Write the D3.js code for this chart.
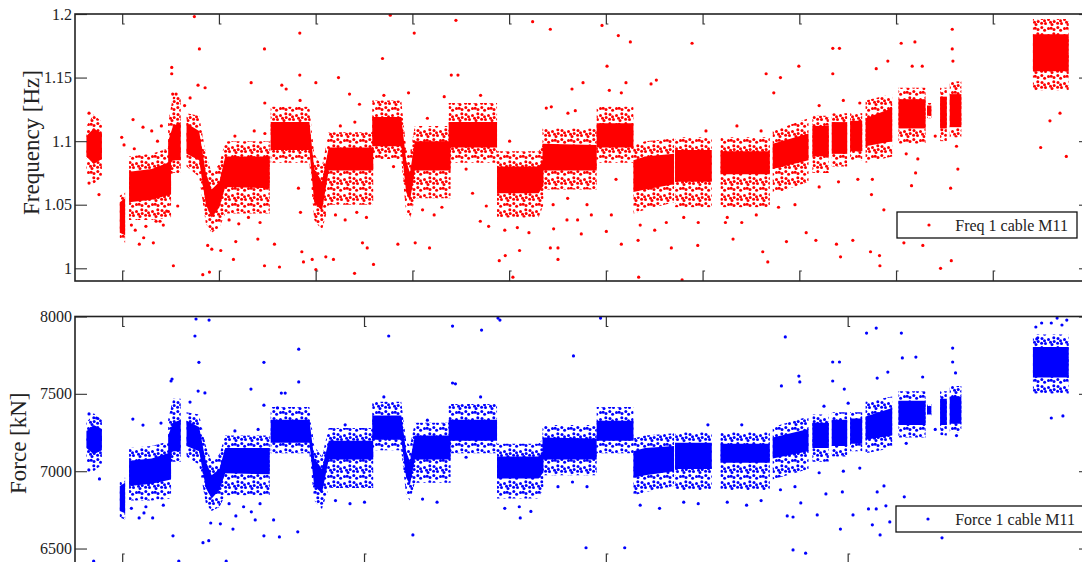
<!DOCTYPE html>
<html>
<head>
<meta charset="utf-8">
<script src="https://cdn.jsdelivr.net/npm/d3@7"></script>
<style>
  body { margin: 0; background: #fff; }
  svg text { font-family: "Liberation Serif", "DejaVu Serif", serif; fill: #222; }
</style>
</head>
<body>
<svg id="chart" width="1082" height="562"></svg>
<script>
// x is measured in days; the ticks sit on whole days (top) and every 2.5 days (bottom)
const xTicksTop = [0, 1, 2, 3, 4, 5, 6, 7, 8, 9];
const xTicksBottom = [0, 2.5, 5, 7.5];
const freqTicks = [1, 1.05, 1.1, 1.15, 1.2];
const forceTicks = [6500, 7000, 7500, 8000];

// dense point clouds: each vertex is [day, haloLo, coreLo, coreHi, haloHi]
const freqBands = [
  [[-0.375, 1.075, 1.088, 1.104, 1.112], [-0.30, 1.066, 1.082, 1.110, 1.121], [-0.215, 1.072, 1.086, 1.106, 1.115]],
  [[-0.03, 1.022, 1.028, 1.052, 1.057], [0.025, 1.020, 1.026, 1.055, 1.060]],
  [[0.066, 1.038, 1.052, 1.076, 1.088], [0.30, 1.038, 1.054, 1.078, 1.090], [0.50, 1.040, 1.058, 1.084, 1.095]],
  [[0.47, 1.070, 1.080, 1.100, 1.115], [0.52, 1.075, 1.085, 1.112, 1.135], [0.60, 1.075, 1.085, 1.115, 1.135]],
  [[0.66, 1.080, 1.090, 1.114, 1.122], [0.79, 1.072, 1.085, 1.108, 1.120], [0.86, 1.035, 1.050, 1.075, 1.090],
   [0.92, 1.028, 1.040, 1.062, 1.075], [1.00, 1.032, 1.048, 1.068, 1.082], [1.06, 1.043, 1.064, 1.088, 1.100],
   [1.52, 1.043, 1.063, 1.088, 1.100]],
  [[1.53, 1.083, 1.093, 1.115, 1.127], [1.93, 1.083, 1.093, 1.115, 1.127], [1.98, 1.038, 1.052, 1.078, 1.090],
   [2.06, 1.030, 1.045, 1.068, 1.080], [2.13, 1.050, 1.077, 1.095, 1.107], [2.59, 1.050, 1.077, 1.095, 1.107]],
  [[2.58, 1.086, 1.096, 1.119, 1.132], [2.88, 1.086, 1.096, 1.119, 1.132], [2.93, 1.043, 1.060, 1.085, 1.095],
   [2.97, 1.038, 1.053, 1.075, 1.090], [3.02, 1.055, 1.077, 1.100, 1.112], [3.39, 1.055, 1.077, 1.100, 1.112]],
  [[3.37, 1.083, 1.095, 1.115, 1.130], [3.87, 1.083, 1.095, 1.115, 1.130]],
  [[3.87, 1.040, 1.059, 1.080, 1.092], [4.30, 1.040, 1.059, 1.080, 1.092], [4.35, 1.050, 1.065, 1.085, 1.097]],
  [[4.34, 1.062, 1.077, 1.098, 1.110], [4.90, 1.062, 1.077, 1.097, 1.110]],
  [[4.90, 1.083, 1.095, 1.114, 1.127], [5.28, 1.083, 1.095, 1.114, 1.127]],
  [[5.28, 1.043, 1.060, 1.085, 1.097], [5.40, 1.046, 1.062, 1.088, 1.100], [5.70, 1.052, 1.066, 1.090, 1.102]],
  [[5.71, 1.048, 1.068, 1.093, 1.103], [6.09, 1.048, 1.068, 1.093, 1.103]],
  [[6.18, 1.048, 1.074, 1.092, 1.103], [6.69, 1.048, 1.074, 1.092, 1.103]],
  [[6.72, 1.058, 1.078, 1.098, 1.108], [7.09, 1.068, 1.085, 1.106, 1.118]],
  [[7.13, 1.075, 1.088, 1.112, 1.120], [7.30, 1.075, 1.088, 1.112, 1.120]],
  [[7.33, 1.080, 1.090, 1.115, 1.122], [7.49, 1.080, 1.090, 1.115, 1.122]],
  [[7.52, 1.085, 1.092, 1.116, 1.122], [7.645, 1.085, 1.092, 1.116, 1.122]],
  [[7.68, 1.083, 1.096, 1.118, 1.132], [7.955, 1.088, 1.100, 1.126, 1.137]],
  [[8.02, 1.098, 1.110, 1.133, 1.142], [8.30, 1.098, 1.110, 1.133, 1.142]],
  [[8.315, 1.118, 1.120, 1.128, 1.130], [8.36, 1.118, 1.120, 1.128, 1.130]],
  [[8.45, 1.100, 1.110, 1.135, 1.142], [8.52, 1.100, 1.110, 1.135, 1.142]],
  [[8.55, 1.103, 1.111, 1.137, 1.147], [8.67, 1.103, 1.111, 1.137, 1.147]],
  [[9.41, 1.140, 1.155, 1.184, 1.196], [9.78, 1.140, 1.155, 1.184, 1.196]]
];

const forceBands = [
  [[-0.375, 7061, 7150, 7258, 7313], [-0.30, 7000, 7109, 7299, 7374], [-0.215, 7041, 7136, 7272, 7333]],
  [[-0.03, 6701, 6742, 6905, 6939], [0.025, 6687, 6728, 6925, 6959]],
  [[0.066, 6810, 6905, 7068, 7150], [0.30, 6810, 6919, 7082, 7163], [0.50, 6823, 6946, 7123, 7197]],
  [[0.47, 7027, 7095, 7231, 7333], [0.52, 7061, 7129, 7313, 7469], [0.60, 7061, 7129, 7333, 7469]],
  [[0.66, 7095, 7163, 7326, 7381], [0.79, 7041, 7129, 7286, 7367], [0.86, 6789, 6891, 7061, 7163],
   [0.92, 6742, 6823, 6973, 7061], [1.00, 6769, 6878, 7014, 7109], [1.06, 6844, 6986, 7150, 7231],
   [1.52, 6844, 6980, 7150, 7231]],
  [[1.53, 7116, 7184, 7333, 7415], [1.93, 7116, 7184, 7333, 7415], [1.98, 6810, 6905, 7082, 7163],
   [2.06, 6755, 6857, 7014, 7095], [2.13, 6891, 7075, 7197, 7279], [2.59, 6891, 7075, 7197, 7279]],
  [[2.58, 7136, 7204, 7360, 7449], [2.88, 7136, 7204, 7360, 7449], [2.93, 6844, 6959, 7129, 7197],
   [2.97, 6810, 6912, 7061, 7163], [3.02, 6925, 7075, 7231, 7313], [3.39, 6925, 7075, 7231, 7313]],
  [[3.37, 7116, 7197, 7333, 7435], [3.87, 7116, 7197, 7333, 7435]],
  [[3.87, 6823, 6952, 7095, 7177], [4.30, 6823, 6952, 7095, 7177], [4.35, 6891, 6993, 7129, 7211]],
  [[4.34, 6973, 7075, 7218, 7299], [4.90, 6973, 7075, 7211, 7299]],
  [[4.90, 7116, 7197, 7326, 7415], [5.28, 7116, 7197, 7326, 7415]],
  [[5.28, 6844, 6959, 7129, 7211], [5.40, 6864, 6973, 7150, 7231], [5.70, 6905, 7000, 7163, 7245]],
  [[5.71, 6878, 7014, 7184, 7252], [6.09, 6878, 7014, 7184, 7252]],
  [[6.18, 6878, 7054, 7177, 7252], [6.69, 6878, 7054, 7177, 7252]],
  [[6.72, 6946, 7082, 7218, 7286], [7.09, 7014, 7129, 7272, 7354]],
  [[7.13, 7061, 7150, 7313, 7367], [7.30, 7061, 7150, 7313, 7367]],
  [[7.33, 7095, 7163, 7333, 7381], [7.49, 7095, 7163, 7333, 7381]],
  [[7.52, 7129, 7177, 7340, 7381], [7.645, 7129, 7177, 7340, 7381]],
  [[7.68, 7116, 7204, 7354, 7449], [7.955, 7150, 7231, 7408, 7483]],
  [[8.02, 7218, 7299, 7456, 7517], [8.30, 7218, 7299, 7456, 7517]],
  [[8.315, 7354, 7367, 7422, 7435], [8.36, 7354, 7367, 7422, 7435]],
  [[8.45, 7231, 7299, 7469, 7517], [8.52, 7231, 7299, 7469, 7517]],
  [[8.55, 7252, 7306, 7483, 7551], [8.67, 7252, 7306, 7483, 7551]],
  [[9.41, 7503, 7605, 7803, 7884], [9.78, 7503, 7605, 7803, 7884]]
];

// scattered samples outside the dense clouds: [day, value]
const freqOutliers = [
  [0.741, 1.198], [0.793, 1.1725], [0.779, 1.144], [0.852, 1.142], [0.697, 1.134], [0.507, 1.158], [0.507, 1.153],
  [0.517, 1.137], [0.552, 1.137], [-0.348, 1.122], [-0.348, 1.067], [-0.245, 1.058], [-0.01, 1.103], [0.014, 1.097],
  [0.107, 1.117], [0.21, 1.111], [0.30, 1.108], [0.40, 1.112], [0.172, 1.019], [0.217, 1.024], [0.317, 1.020],
  [0.345, 1.037], [0.386, 1.037], [0.455, 1.045], [0.569, 1.049], [0.524, 1.002], [0.828, 0.995], [0.897, 0.997],
  [0.879, 1.018], [0.921, 1.015], [1.014, 1.014], [1.145, 1.007], [1.169, 1.021], [1.328, 1.146], [1.466, 1.1725],
  [1.469, 1.130], [1.397, 1.023], [1.466, 1.002], [1.569, 1.019], [1.621, 1.001], [1.645, 1.144], [1.69, 1.141],
  [1.831, 1.185], [1.831, 1.152], [1.834, 1.132], [1.817, 1.063], [1.838, 1.044], [1.852, 1.013], [1.869, 1.005],
  [1.997, 1.146], [1.997, 0.999], [1.959, 1.007], [2.1, 1.009], [2.179, 1.007], [2.231, 1.150], [2.345, 1.137],
  [2.397, 0.996], [2.448, 1.129], [2.479, 1.020], [2.528, 1.016], [2.593, 1.003], [2.686, 1.165], [2.766, 1.199],
  [2.955, 1.138], [3.014, 1.185], [2.845, 1.019], [3.024, 1.020], [3.172, 1.016], [3.324, 1.135], [3.397, 1.152],
  [3.466, 1.152], [3.445, 1.195], [3.617, 1.059], [3.759, 1.049], [3.783, 1.033], [3.697, 1.037], [3.893, 1.006],
  [3.955, 1.010], [4.034, 0.993], [4.103, 1.014], [4.238, 1.194], [4.421, 1.188], [4.379, 1.126], [4.431, 1.127],
  [4.645, 1.141], [4.603, 1.122], [4.421, 1.016], [4.5, 1.007], [4.5, 1.016], [4.455, 1.031], [4.593, 1.038],
  [4.703, 1.038], [4.679, 1.124], [4.955, 1.191], [5.124, 1.183], [5.248, 1.178], [5.007, 1.159], [4.759, 1.146],
  [5.203, 1.146], [5.155, 1.138], [5.031, 1.140], [5.886, 1.177], [5.462, 1.145], [5.517, 1.148], [4.741, 1.027],
  [4.845, 1.042], [5.0, 1.029], [5.052, 1.042], [5.155, 1.019], [5.328, 1.022], [5.334, 0.993], [5.672, 1.016],
  [5.783, 0.991], [5.945, 1.018], [6.231, 1.036], [6.31, 1.023], [6.617, 1.013], [6.669, 1.005], [6.652, 1.153],
  [6.731, 1.138], [6.8, 1.150], [6.862, 1.021], [6.99, 1.159], [7.066, 1.028], [7.166, 1.022], [7.341, 1.173],
  [7.41, 1.173], [7.341, 1.153], [7.379, 1.019], [7.421, 1.009], [7.548, 1.022], [7.741, 1.058], [7.731, 1.013],
  [7.824, 1.010], [7.828, 1.002], [7.79, 1.157], [7.91, 1.163], [7.869, 1.046], [8.048, 1.177], [8.19, 1.178],
  [8.162, 1.159], [8.266, 1.159], [8.155, 1.065], [8.197, 1.075], [8.076, 1.020], [8.272, 1.018], [8.576, 1.188],
  [8.576, 1.1725], [8.583, 1.163], [8.634, 1.078], [8.559, 1.063], [8.566, 1.006], [8.455, 1.0], [9.49, 1.095],
  [9.586, 1.116], [9.69, 1.122], [9.755, 1.088],
  // nearer the clouds
  [0.09, 1.034], [0.13, 1.030], [0.24, 1.033], [0.42, 1.034], [0.12, 1.094], [0.36, 1.100], [0.64, 1.128],
  [1.10, 1.038], [1.20, 1.035], [1.30, 1.040], [1.42, 1.036], [1.16, 1.104], [1.36, 1.108], [1.47, 1.106],
  [2.20, 1.042], [2.30, 1.038], [2.42, 1.044], [2.52, 1.040], [2.25, 1.112], [2.40, 1.115], [2.70, 1.136],
  [2.80, 1.080], [3.10, 1.046], [3.22, 1.042], [3.30, 1.048], [3.15, 1.118], [3.55, 1.078], [3.70, 1.136],
  [3.95, 1.030], [4.08, 1.032], [4.20, 1.028], [4.00, 1.100], [4.45, 1.050], [4.60, 1.055], [4.80, 1.050],
  [5.10, 1.070], [5.35, 1.034], [5.50, 1.030], [5.62, 1.036], [5.80, 1.040], [5.95, 1.036], [6.03, 1.108],
  [6.25, 1.040], [6.40, 1.036], [6.55, 1.042], [6.35, 1.112], [6.60, 1.108], [6.78, 1.048], [6.95, 1.050],
  [7.20, 1.064], [7.40, 1.068], [7.60, 1.070], [7.75, 1.070], [7.20, 1.128], [7.45, 1.132], [7.62, 1.130],
  [8.10, 1.090], [8.22, 1.086], [8.40, 1.104], [8.62, 1.096]
];

const forceOutliers = [
  [0.758, 7984], [0.893, 7977], [0.747, 7874], [0.788, 7704], [0.78, 7518], [0.85, 7506], [0.696, 7447], [0.51, 7596],
  [0.50, 7583], [0.105, 7337], [0.21, 7298], [0.396, 7311], [-0.348, 7370], [-0.27, 7344], [1.326, 7531], [1.46, 7704],
  [1.46, 7427], [1.64, 7505], [1.68, 7505], [1.82, 7789], [1.82, 7577], [1.6, 7409], [-0.35, 7008], [-0.24, 6950],
  [0.17, 6698], [0.22, 6730], [0.31, 6698], [0.52, 6582], [0.83, 6538], [0.89, 6551], [0.91, 6665], [1.01, 6660],
  [1.14, 6626], [1.17, 6711], [1.33, 6737], [1.46, 6582], [1.62, 6575], [1.37, 6685], [1.56, 6685], [1.81, 6608],
  [-0.3, 6418], [0.58, 6418], [1.07, 6418], [6.85, 7868], [7.69, 7893], [7.79, 7925], [8.05, 7893], [8.06, 7732],
  [8.2, 7738], [8.58, 7796], [8.58, 7706], [7.34, 7706], [7.41, 7706], [7.34, 7583], [6.99, 7615], [7.0, 7577],
  [6.81, 7551], [7.91, 7641], [7.8, 7602], [8.61, 7635], [8.27, 7609], [7.46, 7531], [9.66, 7990], [9.76, 7977],
  [9.5, 7958], [9.6, 7958], [9.71, 7945], [9.44, 7932], [9.45, 7855], [9.72, 7357], [9.6, 7344], [6.93, 6491],
  [7.06, 6470], [8.47, 6569], [8.08, 6834], [7.93, 6672], [7.42, 6626], [7.83, 6588], [7.75, 6653], [7.55, 6717],
  [7.18, 6717], [6.87, 6711], [6.93, 6704], [7.01, 6795], [7.27, 6853], [7.44, 6866], [7.8, 6866], [7.87, 6905],
  [7.71, 6756], [7.79, 6756], [7.89, 6776], [3.88, 7990], [3.9, 7977], [4.94, 7990], [3.41, 7938], [3.71, 7912],
  [4.66, 7745], [2.75, 7874], [3.41, 7570], [3.44, 7565], [3.0, 6588], [4.11, 6698], [4.79, 6505], [5.19, 6505],
  // nearer the clouds
  [0.09, 6760], [0.24, 6770], [0.42, 6780], [1.10, 6790], [1.25, 6770], [1.42, 6790], [1.16, 7260], [1.40, 7270],
  [2.20, 6810], [2.35, 6790], [2.50, 6800], [2.30, 7300], [2.70, 7480], [3.10, 6820], [3.25, 6800], [3.15, 7330],
  [3.55, 7090], [3.70, 7480], [3.95, 6760], [4.10, 6770], [4.22, 6740], [4.50, 6900], [4.65, 6930], [4.80, 6900],
  [5.35, 6780], [5.55, 6760], [5.80, 6800], [5.95, 6790], [6.05, 7300], [6.25, 6800], [6.45, 6780], [6.60, 6810],
  [6.40, 7300], [6.80, 6880], [6.95, 6900], [7.20, 6990], [7.45, 7000], [7.62, 7020], [7.25, 7420], [7.50, 7440],
  [8.10, 7180], [8.40, 7270], [8.62, 7230]
];

const svg = d3.select("#chart");
const defs = svg.append("defs");

const left = 75, right = 1090;
const x = d3.scaleLinear().domain([-0.493, 10]).range([left, right]);

// irregular dot texture for the thinner fringe around each dense cloud
const fringeDots = [
  [2, 2.5], [8.5, 3.5], [13.8, 1.8], [5.5, 7.5], [12, 8.5], [1.8, 11.5], [8.5, 12.5],
  [14, 13.5], [4.6, 14.3], [10.5, 6.2], [4.5, 4.8], [11.2, 12.2], [14.2, 5.5], [1.6, 7.2]
];
function dotPattern(id, color) {
  const p = defs.append("pattern")
    .attr("id", id)
    .attr("patternUnits", "userSpaceOnUse")
    .attr("width", 16)
    .attr("height", 16);
  p.selectAll("circle").data(fringeDots).join("circle")
    .attr("cx", d => d[0]).attr("cy", d => d[1]).attr("r", 1.5).attr("fill", color);
}

function drawPanel(p) {
  const y = d3.scaleLinear().domain(p.domain).range([p.bottom, p.top]);
  const g = svg.append("g");

  defs.append("clipPath").attr("id", p.id + "-clip")
    .append("rect")
    .attr("x", left).attr("y", p.top)
    .attr("width", right - left).attr("height", p.bottom - p.top);
  dotPattern(p.id + "-dots", p.color);

  const plot = g.append("g").attr("clip-path", `url(#${p.id}-clip)`);

  const halo = d3.area().x(d => x(d[0])).y0(d => y(d[1])).y1(d => y(d[4]));
  const core = d3.area().x(d => x(d[0])).y0(d => y(d[2])).y1(d => y(d[3]));

  plot.selectAll("path.halo")
    .data(p.bands)
    .join("path")
    .attr("class", "halo")
    .attr("d", halo)
    .attr("fill", `url(#${p.id}-dots)`);

  plot.selectAll("path.core")
    .data(p.bands)
    .join("path")
    .attr("class", "core")
    .attr("d", core)
    .attr("fill", p.color);

  plot.selectAll("circle.pt")
    .data(p.outliers)
    .join("circle")
    .attr("class", "pt")
    .attr("cx", d => x(d[0]))
    .attr("cy", d => y(d[1]))
    .attr("r", 1.6)
    .attr("fill", p.color);

  // y axis: inward ticks on the left with labels, bare ticks on the right
  const yAxis = g.append("g")
    .attr("transform", `translate(${left},0)`)
    .call(d3.axisLeft(y).tickValues(p.yTicks).tickSize(-12).tickPadding(3).tickFormat(p.fmt));
  yAxis.select(".domain").remove();
  yAxis.selectAll("line").attr("stroke", "#444").attr("stroke-width", 1.2);
  yAxis.selectAll("text")
    .attr("font-size", 16)
    .attr("font-family", "Liberation Serif, serif")
    .attr("fill", "#333");

  const yAxisR = g.append("g")
    .attr("transform", `translate(${right},0)`)
    .call(d3.axisRight(y).tickValues(p.yTicks).tickSize(-11).tickFormat(""));
  yAxisR.select(".domain").remove();
  yAxisR.selectAll("line").attr("stroke", "#444").attr("stroke-width", 1.2);

  // x ticks: small bracket-shaped marks pointing inward from top and bottom edges
  g.selectAll("path.xt-top")
    .data(p.xTicks)
    .join("path")
    .attr("d", d => `M${x(d)},${p.top} v10 h2`)
    .attr("fill", "none")
    .attr("stroke", "#333")
    .attr("stroke-width", 1.2);
  g.selectAll("path.xt-bot")
    .data(p.xTicks)
    .join("path")
    .attr("d", d => `M${x(d)},${p.bottom} v-10 h2`)
    .attr("fill", "none")
    .attr("stroke", "#333")
    .attr("stroke-width", 1.2);

  // frame
  g.append("rect")
    .attr("x", left).attr("y", p.top)
    .attr("width", right - left).attr("height", p.bottom - p.top)
    .attr("fill", "none")
    .attr("stroke", "#222")
    .attr("stroke-width", 1.6);

  g.append("text")
    .attr("transform", `translate(${p.labelX},${(p.top + p.bottom) / 2 + p.labelShift}) rotate(-90)`)
    .attr("text-anchor", "middle")
    .attr("font-size", 23)
    .attr("fill", "#333")
    .text(p.label);

  // legend
  const lg = g.append("g");
  lg.append("rect")
    .attr("x", p.legend.x).attr("y", p.legend.y)
    .attr("width", p.legend.w).attr("height", 26)
    .attr("fill", "#fff")
    .attr("stroke", "#111")
    .attr("stroke-width", 1.3);
  lg.append("circle")
    .attr("cx", p.legend.x + 32).attr("cy", p.legend.y + 13)
    .attr("r", 1.6)
    .attr("fill", p.color);
  lg.append("text")
    .attr("x", p.legend.textEnd).attr("y", p.legend.y + 19)
    .attr("text-anchor", "end")
    .attr("font-size", 16)
    .attr("fill", "#333")
    .text(p.name);
}

drawPanel({
  id: "freq",
  domain: [0.99, 1.2],
  top: 14, bottom: 281,
  color: "#ff0000",
  bands: freqBands,
  outliers: freqOutliers,
  yTicks: freqTicks,
  fmt: d => String(+d.toFixed(2)),
  xTicks: xTicksTop,
  label: "Frequency [Hz]",
  labelX: 39,
  labelShift: -5,
  name: "Freq 1 cable M11",
  legend: { x: 897, y: 212, w: 180, textEnd: 1068 }
});

drawPanel({
  id: "force",
  domain: [6400, 8000],
  top: 316.5, bottom: 564,
  color: "#0000ff",
  bands: forceBands,
  outliers: forceOutliers,
  yTicks: forceTicks,
  fmt: d => String(d),
  xTicks: xTicksBottom,
  label: "Force [kN]",
  labelX: 26,
  labelShift: 3,
  name: "Force 1 cable M11",
  legend: { x: 896, y: 506, w: 194, textEnd: 1075 }
});
</script>
</body>
</html>
